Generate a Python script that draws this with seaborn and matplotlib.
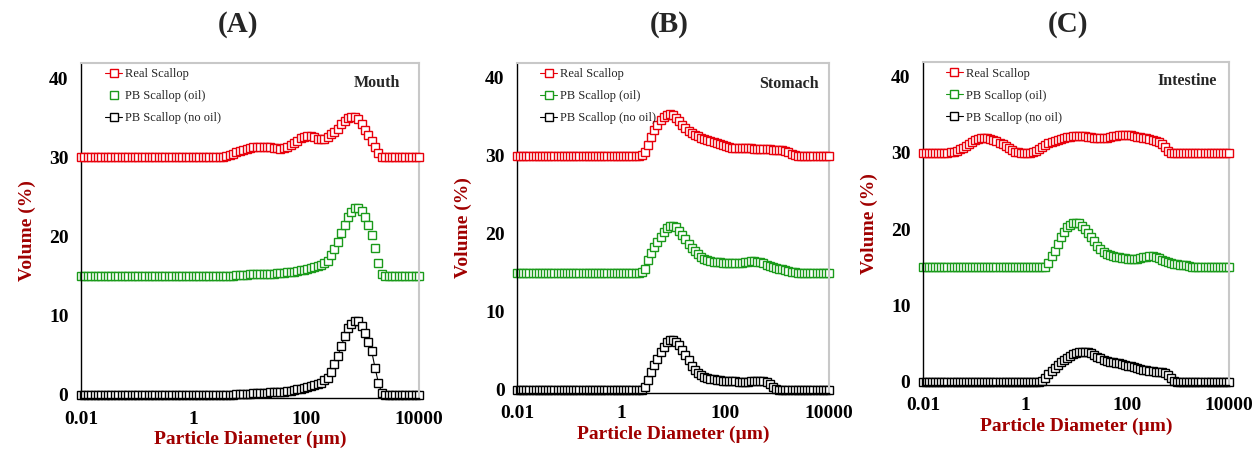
import numpy as np
import pandas as pd
import matplotlib
matplotlib.use("Agg")
import matplotlib.pyplot as plt
import seaborn as sns

# size classes (um), 101 log-spaced bins from 0.01 to 10000
diameter = np.logspace(-2, 4, 101)

panels = ["(A)", "(B)", "(C)"]
stages = ["Mouth", "Stomach", "Intestine"]
series_names = ["Real Scallop", "PB Scallop (oil)", "PB Scallop (no oil)"]
series_colors = ["#e8000b", "#1a9a1a", "#000000"]
tick_vals = [0.01, 1, 100, 10000]
tick_labels = ["0.01", "1", "100", "10000"]

# volume (%), stacked with offsets 30 / 15 / 0
real_mouth = ([30.0] * 42 +
              [30.05, 30.15, 30.3, 30.45, 30.6, 30.75, 30.9, 31.05, 31.15, 31.25,
               31.3, 31.3, 31.3, 31.3, 31.25, 31.2, 31.15, 31.1, 31.15, 31.3,
               31.5, 31.8, 32.1, 32.4, 32.6, 32.7, 32.65, 32.5, 32.35, 32.3,
               32.35, 32.6, 32.9, 33.2, 33.6, 34.2, 34.6, 34.9, 35.1, 35.1,
               34.8, 34.2, 33.5, 32.8, 32.1, 31.3, 30.5, 30.0] +
              [30.0] * 11)
oil_mouth = ([15.0] * 45 +
             [15.05, 15.1, 15.1, 15.15, 15.15, 15.2, 15.2, 15.2, 15.2, 15.25,
              15.25, 15.3, 15.3, 15.35, 15.35, 15.4, 15.45, 15.5, 15.55, 15.6,
              15.7, 15.8, 15.9, 16.0, 16.1, 16.25, 16.4, 16.6, 16.9, 17.6,
              18.4, 19.3, 20.4, 21.4, 22.4, 23.1, 23.6, 23.65, 23.2, 22.4,
              21.5, 20.2, 18.6, 16.7, 15.3] +
             [15.0] * 11)
nooil_mouth = ([0.0] * 45 +
               [0.02, 0.05, 0.07, 0.1, 0.12, 0.15, 0.17, 0.2, 0.22, 0.25,
                0.27, 0.3, 0.32, 0.35, 0.38, 0.42, 0.47, 0.53, 0.6, 0.68,
                0.78, 0.88, 1.0, 1.1, 1.2, 1.35, 1.55, 1.85, 2.15, 2.9,
                3.9, 4.9, 6.2, 7.4, 8.4, 9.0, 9.3, 9.3, 8.7, 7.8,
                6.7, 5.5, 3.4, 1.5, 0.2] +
               [0.0] * 11)

real_stomach = ([30.0] * 40 +
                [30.05, 30.5, 31.4, 32.4, 33.3, 34.0, 34.6, 35.0, 35.2, 35.3,
                 35.2, 34.9, 34.45, 34.0, 33.6, 33.2, 32.9, 32.7, 32.5, 32.3,
                 32.2, 32.05, 31.9, 31.8, 31.65, 31.5, 31.4, 31.25, 31.15, 31.05,
                 31.0, 31.0, 31.0, 31.0, 30.95, 30.95, 30.9, 30.9, 30.9, 30.85,
                 30.85, 30.85, 30.8, 30.8, 30.8, 30.75, 30.65, 30.45, 30.2, 30.05] +
                [30.0] * 11)
oil_stomach = ([15.0] * 40 +
               [15.05, 15.5, 16.6, 17.5, 18.3, 19.0, 19.6, 20.2, 20.7, 20.95,
                21.0, 20.85, 20.4, 19.9, 19.3, 18.7, 18.2, 17.8, 17.4, 17.05,
                16.8, 16.65, 16.55, 16.45, 16.4, 16.35, 16.3, 16.25, 16.2, 16.2,
                16.2, 16.25, 16.3, 16.35, 16.45, 16.5, 16.5, 16.45, 16.35, 16.2,
                16.05, 15.9, 15.8, 15.65, 15.55, 15.45, 15.35, 15.25, 15.15, 15.05] +
               [15.0] * 11)
nooil_stomach = ([0.0] * 41 +
                 [0.4, 1.3, 2.3, 3.2, 4.0, 4.8, 5.5, 6.1, 6.4, 6.4,
                  6.2, 5.7, 5.1, 4.5, 3.8, 3.1, 2.6, 2.2, 1.9, 1.7,
                  1.55, 1.45, 1.35, 1.3, 1.25, 1.2, 1.2, 1.15, 1.1, 1.1,
                  1.05, 1.05, 1.05, 1.05, 1.1, 1.1, 1.15, 1.15, 1.1, 0.95,
                  0.7, 0.4, 0.15] +
                 [0.0] * 17)

real_intestine = ([30.0] * 9 +
                  [30.05, 30.1, 30.25, 30.45, 30.7, 30.95, 31.2, 31.45, 31.65, 31.8,
                   31.9, 31.95, 31.95, 31.85, 31.7, 31.55, 31.35, 31.1, 30.85, 30.6,
                   30.35, 30.15, 30.05, 30.0, 30.0, 30.0, 30.0, 30.05, 30.2, 30.45,
                   30.75, 31.0, 31.25, 31.45, 31.6, 31.75, 31.85, 31.95, 32.05, 32.1,
                   32.15, 32.2, 32.2, 32.2, 32.15, 32.1, 32.05, 32.0, 32.0, 31.95,
                   31.95, 31.95, 32.05, 32.15, 32.2, 32.3, 32.35, 32.4, 32.35, 32.3,
                   32.2, 32.1, 32.05, 31.95, 31.9, 31.85, 31.7, 31.55, 31.4, 31.2,
                   30.8, 30.3] +
                  [30.0] * 20)
oil_intestine = ([15.0] * 40 +
                 [15.1, 15.6, 16.5, 17.2, 18.1, 19.0, 19.7, 20.3, 20.6, 20.8,
                  20.8, 20.75, 20.45, 20.0, 19.55, 19.0, 18.4, 17.85, 17.35, 17.0,
                  16.75, 16.6, 16.5, 16.4, 16.3, 16.25, 16.2, 16.15, 16.15, 16.15,
                  16.15, 16.2, 16.3, 16.4, 16.45, 16.45, 16.35, 16.2, 16.0, 15.85,
                  15.7, 15.55, 15.45, 15.4, 15.35, 15.3, 15.25, 15.15, 15.05] +
                 [15.0] * 12)
nooil_intestine = ([0.0] * 39 +
                   [0.1, 0.5, 1.0, 1.4, 1.8, 2.2, 2.6, 2.9, 3.2, 3.45,
                    3.65, 3.8, 3.9, 3.95, 3.95, 3.9, 3.75, 3.55, 3.3, 3.1,
                    2.9, 2.75, 2.65, 2.55, 2.5, 2.45, 2.35, 2.25, 2.15, 2.05,
                    1.95, 1.85, 1.7, 1.6, 1.5, 1.45, 1.4, 1.35, 1.35, 1.3,
                    1.2, 0.95, 0.5, 0.15] +
                   [0.0] * 18)

data = [
    [real_mouth, oil_mouth, nooil_mouth],
    [real_stomach, oil_stomach, nooil_stomach],
    [real_intestine, oil_intestine, nooil_intestine],
]
for grp in data:
    for s in grp:
        assert len(s) == len(diameter), len(s)

sns.set_style("white")
plt.rcParams['font.family'] = ['Liberation Serif', 'DejaVu Serif']

fig = plt.figure(figsize=(12.6, 4.5), dpi=100)
W, H = 1260, 450
# axes boxes in pixels: left, right, top, bottom
boxes = [(81, 419, 63, 398), (517, 829, 63, 393), (923, 1229, 62, 385)]
title_x = [238, 669, 1068]
stage_pos = [(0.945, 0.94), (0.968, 0.936), (0.96, 0.94)]
# panel A draws the oil series without a connecting line
line_on = [[True, False, True], [True, True, True], [True, True, True]]
label_red = "#a00000"

for k in range(3):
    l, r, t, b = boxes[k]
    ax = fig.add_axes([l / W, 1 - b / H, (r - l) / W, (b - t) / H])
    for j in range(3):
        df = pd.DataFrame({"d": diameter, "v": data[k][j]})
        sns.lineplot(data=df, x="d", y="v", ax=ax, estimator=None,
                     color=series_colors[j], linewidth=0.8 if line_on[k][j] else 0,
                     marker="s", markersize=6, markerfacecolor="white",
                     markeredgecolor=series_colors[j], markeredgewidth=1.0,
                     label=series_names[j], clip_on=False, zorder=3 - j)
    ax.set_xscale("log")
    ax.set_xlim(0.01, 10000)
    ax.set_ylim(-0.4, 41.9)
    ax.set_xticks(tick_vals)
    ax.set_xticklabels(tick_labels)
    ax.xaxis.set_minor_locator(matplotlib.ticker.NullLocator())
    ax.set_yticks([0, 10, 20, 30, 40])
    ax.tick_params(axis="both", which="major", direction="out", length=5,
                   width=1, colors="black", labelsize=14, pad=4)
    for lab in ax.get_xticklabels() + ax.get_yticklabels():
        lab.set_fontweight("bold")
    for side in ["left", "bottom"]:
        ax.spines[side].set_color("black")
        ax.spines[side].set_linewidth(1.0)
    for side in ["top", "right"]:
        ax.spines[side].set_color("#c8c8c8")
        ax.spines[side].set_linewidth(1.5)
    ax.set_xlabel("Particle Diameter (\u00b5m)", fontsize=14, fontweight="bold",
                  color=label_red, labelpad=2)
    ax.set_ylabel("Volume (%)", fontsize=14, fontweight="bold",
                  color=label_red, labelpad=9)
    ax.legend(loc="upper left", bbox_to_anchor=(0.045, 1.01), frameon=False,
              fontsize=9, handlelength=1.4, handletextpad=0.2,
              labelspacing=0.8, borderaxespad=0.3)
    sx, sy = stage_pos[k]
    ax.text(sx, sy, stages[k], transform=ax.transAxes, ha="right", va="center",
            fontsize=11.5, fontweight="bold")
    fig.text(title_x[k] / W, 1 - 25 / H, panels[k], ha="center", va="center",
             fontsize=21, fontweight="bold")

fig.savefig("out.png", dpi=100)
